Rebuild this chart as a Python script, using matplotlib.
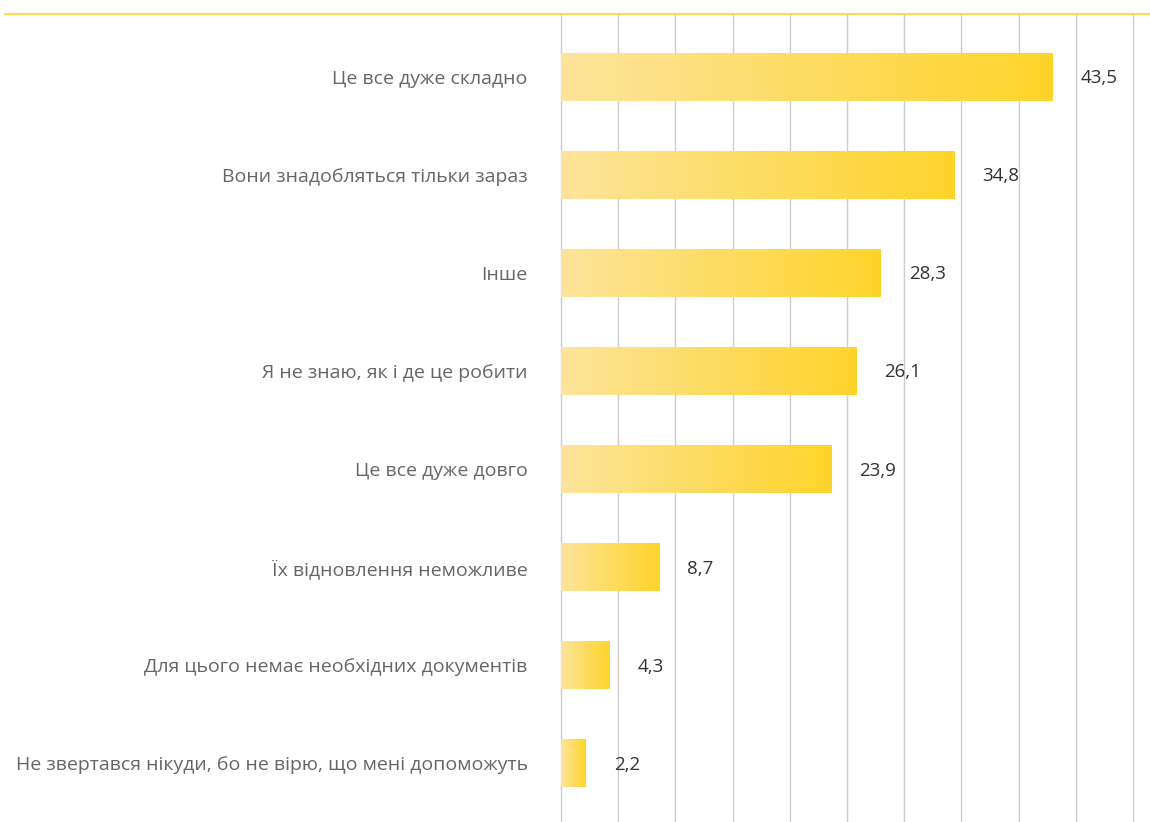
import numpy as np
import matplotlib
matplotlib.use("Agg")
import matplotlib.pyplot as plt
from matplotlib.colors import LinearSegmentedColormap
from matplotlib.lines import Line2D
from matplotlib.ticker import LinearLocator

categories = [
    "Це все дуже складно",
    "Вони знадобляться тільки зараз",
    "Інше",
    "Я не знаю, як і де це робити",
    "Це все дуже довго",
    "Їх відновлення неможливе",
    "Для цього немає необхідних документів",
    "Не звертався нікуди, бо не вірю, що мені допоможуть",
]
values = [43.5, 34.8, 28.3, 26.1, 23.9, 8.7, 4.3, 2.2]
value_labels = ["43,5", "34,8", "28,3", "26,1", "23,9", "8,7", "4,3", "2,2"]
x_max = 50.6

plt.rcParams['font.family'] = ['Open Sans', 'DejaVu Sans']

W, H = 1150, 822
fig = plt.figure(figsize=(W / 100, H / 100), dpi=100)
ax = fig.add_axes([561 / W, 0, (1133 - 561) / W, 1 - 14 / H])

n = len(categories)
ypos = np.arange(n)
bar_h = 0.48
cmap = LinearSegmentedColormap.from_list("g", ["#FDE49B", "#FFD42A"])
grad = np.linspace(0, 1, 256).reshape(1, -1)

for y, v in zip(ypos, values):
    ax.imshow(grad, cmap=cmap, aspect='auto',
              extent=(0, v, y + bar_h / 2, y - bar_h / 2), zorder=2,
              interpolation='bilinear')

ax.set_xlim(0, x_max)
ax.set_ylim(n - 0.4, -0.643)
ax.xaxis.set_major_locator(LinearLocator(11))
ax.xaxis.grid(True, color="#cccccc", linewidth=1)
for gl in ax.get_xgridlines():
    gl.set_clip_on(False)
ax.set_axisbelow(True)
ax.tick_params(axis='x', length=0, labelbottom=False)
ax.tick_params(axis='y', length=0, pad=24)
ax.set_yticks(ypos)
ax.set_yticklabels(categories, fontsize=14, color="#666666")
for s in ax.spines.values():
    s.set_visible(False)

for y, v, lab in zip(ypos, values, value_labels):
    ax.annotate(lab, (v, y), xytext=(20, -1), textcoords='offset points',
                va='center', ha='left', fontsize=13.5, color="#333333")

fig.add_artist(Line2D([5 / W, 1.0], [1 - 14 / H, 1 - 14 / H],
                      transform=fig.transFigure, color="#FFD534", linewidth=1.3))

fig.savefig("out.png", dpi=100)
